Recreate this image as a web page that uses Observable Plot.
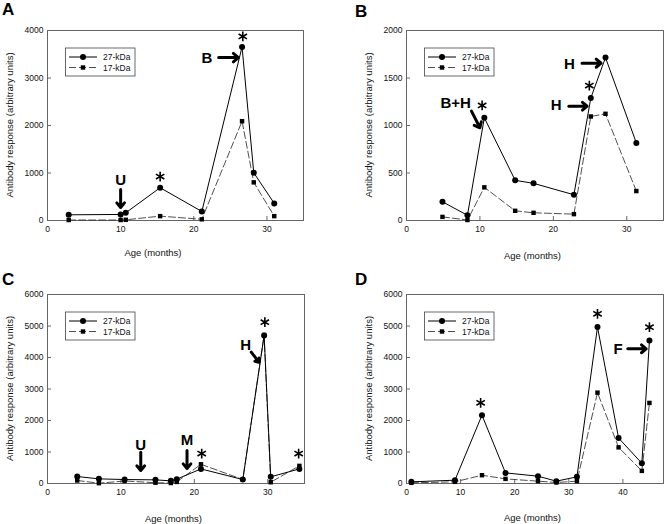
<!DOCTYPE html>
<html><head><meta charset="utf-8">
<script src="https://cdn.jsdelivr.net/npm/d3@7"></script>
<script src="https://cdn.jsdelivr.net/npm/@observablehq/plot@0.6"></script>
<style>
body{margin:0;background:#fff;}
#wrap{position:relative;width:664px;height:524px;font-family:Arial,"Liberation Sans",sans-serif;}
#wrap svg{position:absolute;overflow:visible;}
</style></head><body><div id="wrap"></div>
<script>
// ---- shared labels ----
const seriesNames = ["27-kDa", "17-kDa"];
const xLabel = "Age (months)";
const yLabel = "Antibody response (arbitrary units)";

// ---- Panel A ----
const agesA = [2.9, 10.0, 10.7, 15.4, 21.1, 26.6, 28.2, 31.0];
const a27 = [120, 127, 162, 690, 190, 3655, 1005, 360];
const a17 = [10, 10, 15, 92, 25, 2090, 803, 92];
const xTicksA = [0, 10, 20, 30];
const yTicksA = [0, 1000, 2000, 3000, 4000];
const textA = [["U", 10.0, 840], ["B", 21.8, 3425]];
const arrowsA = [[10.0, 653, 10.0, 274], [23.4, 3430, 26.1, 3430]];
const starsA = [[15.4, 926], [26.7, 3874]];

// ---- Panel B ----
const agesB = [4.9, 8.3, 10.6, 14.8, 17.3, 22.8, 25.1, 27.1, 31.3];
const b27 = [197, 55, 1081, 423, 391, 271, 1289, 1715, 817];
const b17 = [38, 5, 349, 102, 81, 67, 1095, 1123, 310];
const xTicksB = [0, 10, 20, 30];
const yTicksB = [0, 500, 1000, 1500, 2000];
const textB = [["B+H", 6.7, 1232], ["H", 20.4, 1211], ["H", 22.2, 1650]];
const arrowsB = [[8.85, 1151, 10.0, 976], [22.1, 1203, 24.6, 1203], [23.9, 1656, 26.5, 1656]];
const starsB = [[10.3, 1211], [24.9, 1421]];

// ---- Panel C ----
const agesC = [4.05, 7.0, 10.5, 14.7, 16.8, 17.6, 20.9, 26.6, 29.5, 30.4, 34.3];
const c27 = [221, 147, 126, 116, 84, 137, 463, 126, 4695, 211, 463];
const c17 = [95, 10, 80, 25, 15, 50, 610, 126, 4715, 40, 560];
const xTicksC = [0, 10, 20, 30];
const yTicksC = [0, 1000, 2000, 3000, 4000, 5000, 6000];
const textC = [["U", 12.7, 1229], ["M", 19.0, 1365], ["H", 27.0, 4381]];
const arrowsC = [[12.7, 994, 12.7, 413], [19.0, 1048, 19.0, 476], [27.75, 4168, 28.8, 3851]];
const starsC = [[21.0, 952], [29.6, 5121], [34.2, 952]];

// ---- Panel D ----
const agesD = [0.9, 8.95, 13.95, 18.3, 24.3, 27.7, 31.5, 35.3, 39.2, 43.5, 44.9];
const d27 = [53, 105, 2168, 337, 232, 74, 211, 4968, 1442, 642, 4537];
const d17 = [21, 53, 263, 147, 74, 32, 74, 2884, 1147, 400, 2558];
const xTicksD = [0, 10, 20, 30, 40];
const yTicksD = [0, 1000, 2000, 3000, 4000, 5000, 6000];
const textD = [["F", 39.1, 4276]];
const arrowsD = [[40.9, 4276, 44.3, 4276]];
const starsD = [[13.7, 2562], [35.3, 5387], [44.9, 4962]];

const FONT = "Arial, 'Liberation Sans', sans-serif";

function panel(cfg) {
  const s27 = cfg.ages.map((a, i) => ({age: a, v: cfg.v27[i]}));
  const s17 = cfg.ages.map((a, i) => ({age: a, v: cfg.v17[i]}));
  const txt = cfg.text.map(([t, x, y]) => ({t, x, y}));
  const arr = cfg.arrows.map(([x1, y1, x2, y2]) => ({x1, y1, x2, y2}));
  const stars = cfg.stars.map(([x, y]) => ({x, y}));
  const fig = Plot.plot({
    width: 332, height: 262,
    marginLeft: cfg.ml, marginRight: cfg.mr, marginTop: cfg.mt, marginBottom: cfg.mb,
    style: {fontFamily: FONT, fontSize: "8.5px", color: "#111", background: "transparent", overflow: "visible"},
    x: {domain: cfg.xd},
    y: {domain: cfg.yd},
    marks: [
      Plot.frame({stroke: "#666", strokeWidth: 1}),
      Plot.axisX({ticks: cfg.xt, tickSize: -4, tickPadding: 9, tickFormat: d3.format("d"), label: null, stroke: "#666"}),
      Plot.axisY({ticks: cfg.yt, tickSize: -4, tickPadding: 8, tickFormat: d3.format("d"), label: null, stroke: "#666"}),
      Plot.line(s17, {x: "age", y: "v", stroke: "#222", strokeWidth: 0.8, strokeDasharray: "7,3"}),
      Plot.line(s27, {x: "age", y: "v", stroke: "#000", strokeWidth: 1}),
      Plot.dot(s17, {x: "age", y: "v", symbol: "square", r: 2.5, fill: "#000", stroke: "none"}),
      Plot.dot(s27, {x: "age", y: "v", r: 3, fill: "#000", stroke: "none"}),
      Plot.arrow(arr, {x1: "x1", y1: "y1", x2: "x2", y2: "y2", stroke: "#000", strokeWidth: 3, headLength: 4, headAngle: 80}),
      Plot.dot(stars, {x: "x", y: "y", symbol: "asterisk", r: 4.6, stroke: "#000", strokeWidth: 1.6}),
      Plot.text(txt, {x: "x", y: "y", text: "t", fontSize: 15, fontWeight: "bold", fill: "#000", textAnchor: "middle", lineAnchor: "middle"})
    ]
  });
  const svg = d3.select(fig).style("left", cfg.left + "px").style("top", cfg.top + "px");
  // panel letter
  svg.append("text").attr("x", cfg.lx).attr("y", cfg.ly).text(cfg.letter)
    .attr("text-anchor", "start")
    .attr("font-family", FONT).attr("font-size", 17).attr("font-weight", "bold").attr("fill", "#000");
  // axis labels
  svg.append("text").attr("x", cfg.xlx).attr("y", cfg.xly).text(xLabel)
    .attr("font-family", FONT).attr("font-size", 9.5).attr("text-anchor", "middle")
    .attr("dominant-baseline", "central").attr("fill", "#111");
  const yc = (cfg.mt + (262 - cfg.mb)) / 2;
  svg.append("text").attr("transform", `translate(${cfg.ml - 38},${yc}) rotate(-90)`).text(yLabel)
    .attr("font-family", FONT).attr("font-size", 9.5).attr("text-anchor", "middle")
    .attr("dominant-baseline", "central").attr("fill", "#111");
  // legend
  const bx = cfg.ml + 18.5, by = cfg.mt + 18;
  const g = svg.append("g");
  g.append("rect").attr("x", bx).attr("y", by).attr("width", 69.5).attr("height", 28)
    .attr("fill", "#fff").attr("stroke", "#444").attr("stroke-width", 0.8);
  seriesNames.forEach((name, i) => {
    const yy = by + 9 + i * 10.5;
    g.append("line").attr("x1", bx + 3.5).attr("x2", bx + 31.5).attr("y1", yy).attr("y2", yy)
      .attr("stroke", i === 0 ? "#000" : "#222").attr("stroke-width", i === 0 ? 1 : 0.8)
      .attr("stroke-dasharray", i === 0 ? null : "7,3");
    if (i === 0) g.append("circle").attr("cx", bx + 17.5).attr("cy", yy).attr("r", 3).attr("fill", "#000");
    else g.append("rect").attr("x", bx + 15.3).attr("y", yy - 2.2).attr("width", 4.4).attr("height", 4.4).attr("fill", "#000");
    g.append("text").attr("x", bx + 37.5).attr("y", yy).text(name)
      .attr("text-anchor", "start")
      .attr("font-family", FONT).attr("font-size", 8.5).attr("dominant-baseline", "central").attr("fill", "#111");
  });
  document.getElementById("wrap").appendChild(fig);
}

panel({letter: "A", left: 0, top: 0, ml: 47, mr: 29, mt: 30, mb: 42, xd: [0, 35], yd: [0, 4000],
  xt: xTicksA, yt: yTicksA, ages: agesA, v27: a27, v17: a17, text: textA, arrows: arrowsA, stars: starsA,
  lx: 2, ly: 15, xlx: 153, xly: 252});
panel({letter: "B", left: 332, top: 0, ml: 74, mr: 1, mt: 30, mb: 42, xd: [0, 35], yd: [0, 2000],
  xt: xTicksB, yt: yTicksB, ages: agesB, v27: b27, v17: b17, text: textB, arrows: arrowsB, stars: starsB,
  lx: 23, ly: 16.5, xlx: 200.5, xly: 255.5});
panel({letter: "C", left: 0, top: 262, ml: 47, mr: 28, mt: 32, mb: 41, xd: [0, 35], yd: [0, 6000],
  xt: xTicksC, yt: yTicksC, ages: agesC, v27: c27, v17: c17, text: textC, arrows: arrowsC, stars: starsC,
  lx: 2, ly: 22.7, xlx: 173.5, xly: 256});
panel({letter: "D", left: 332, top: 262, ml: 74, mr: 1, mt: 32, mb: 41, xd: [0, 47.5], yd: [0, 6000],
  xt: xTicksD, yt: yTicksD, ages: agesD, v27: d27, v17: d17, text: textD, arrows: arrowsD, stars: starsD,
  lx: 23, ly: 23.3, xlx: 200.5, xly: 255.5});
</script></body></html>
